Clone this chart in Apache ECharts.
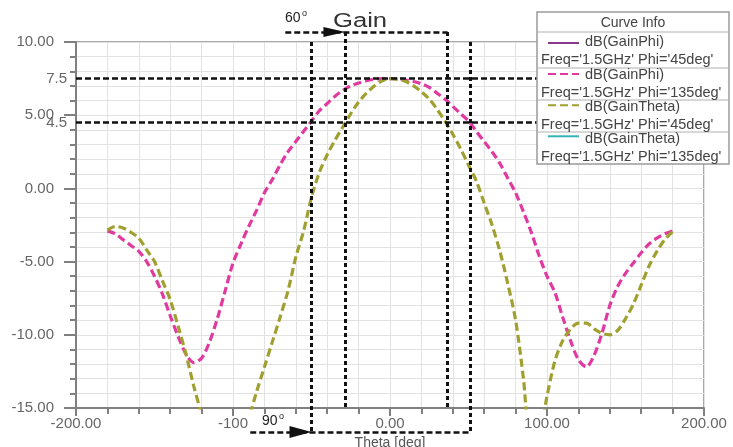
<!DOCTYPE html>
<html>
<head>
<meta charset="utf-8">
<script src="https://cdn.jsdelivr.net/npm/echarts@6/dist/echarts.min.js"></script>
<style>
    html, body { margin: 0; padding: 0; background: #fff; }
    #main { width: 733px; height: 447px; }
</style>
</head>
<body>
<div id="main"></div>
<script>
    // theta in degrees, 5 deg steps
    var thetaDeg = [-180, -175, -170, -165, -160, -155, -150, -145, -140, -135, -130, -125, -120, -115, -110, -105, -100,
        -95, -90, -85, -80, -75, -70, -65, -60, -55, -50, -45, -40, -35, -30, -25, -20, -15, -10, -5, 0, 5, 10, 15, 20,
        25, 30, 35, 40, 45, 50, 55, 60, 65, 70, 75, 80, 85, 90, 95, 100, 105, 110, 115, 120, 125, 130, 135, 140, 145,
        150, 155, 160, 165, 170, 175, 180];

    // dB(GainPhi) Phi='135deg'  (pink dashed)
    var gainPhi135 = [-2.9, -3.1, -3.5, -3.9, -4.3, -5.0, -6.0, -7.2, -8.7, -10.1, -11.3, -11.9, -11.6, -10.5, -8.9,
        -7.0, -5.1, -3.8, -2.6, -1.5, -0.3, 0.6, 1.6, 2.5, 3.2, 3.9, 4.6, 5.3, 5.8, 6.3, 6.7, 7.0, 7.2, 7.35, 7.45, 7.5,
        7.5, 7.5, 7.4, 7.3, 7.15, 6.9, 6.5, 6.1, 5.6, 5.1, 4.6, 3.9, 3.2, 2.5, 1.7, 0.7, -0.3, -1.6, -3.0, -4.6, -6.0,
        -7.1, -8.8, -10.4, -11.7, -12.2, -11.4, -9.9, -8.0, -6.7, -5.8, -5.1, -4.4, -3.8, -3.4, -3.1, -2.9];

    // dB(GainTheta) Phi='45deg'  (olive dashed), dips below -15 are off the chart
    var gainTheta45 = [-2.85, -2.6, -2.7, -3.0, -3.4, -4.2, -5.0, -6.3, -7.6, -9.4, -11.3, -13.5, -15.5, -18.0, -20.0,
        -21.0, -20.0, -18.0, -15.8, -13.9, -12.2, -10.5, -8.8, -7.0, -4.7, -2.9, -0.6, 1.1, 2.3, 3.3, 4.2, 5.1, 5.9, 6.5,
        7.0, 7.35, 7.5, 7.45, 7.3, 7.0, 6.6, 6.1, 5.4, 4.6, 3.7, 2.7, 1.6, 0.5, -1.0, -2.5, -4.3, -6.5, -9.0, -13.0,
        -18.0, -17.0, -14.2, -11.8, -10.4, -9.6, -9.2, -9.2, -9.6, -9.9, -10.0, -9.7, -8.9, -7.9, -6.6, -5.3, -4.3, -3.5,
        -2.95];

    // the two solid curves are not visible in the picture
    var gainPhi45 = [];
    var gainTheta135 = [];

    var curveNames = ['dB(GainPhi)', 'dB(GainPhi)', 'dB(GainTheta)', 'dB(GainTheta)'];
    var curveFreq = ["Freq='1.5GHz' Phi='45deg'", "Freq='1.5GHz' Phi='135deg'",
        "Freq='1.5GHz' Phi='45deg'", "Freq='1.5GHz' Phi='135deg'"];
    var seriesIds = ['phi45', 'phi135', 'theta45', 'theta135'];

    // beamwidth annotations
    var gainLevels = [7.5, 4.5];
    var beam90 = [-50, 51];       // outer pair, 90 deg arrow
    var beam60 = [-28.4, 36.7];   // inner pair, 60 deg arrow
    var arrowTopY = 10.68;
    var arrowBottomY = -16.64;

    var font = 'Liberation Sans';

    function pairs(vals) {
        var out = [];
        for (var i = 0; i < vals.length; i++) {
            out.push([thetaDeg[i], vals[i]]);
        }
        return out;
    }

    var myChart = echarts.init(document.getElementById('main'));

    var dashH = {color: '#111', width: 2.5, type: [6, 3]};
    var dashV = {color: '#111', width: 3, type: [4, 3]};

    var notes = [
        [{coord: [-200, gainLevels[0]], label: {show: true, formatter: '7.5'}, lineStyle: dashH}, {coord: [100, gainLevels[0]]}],
        [{coord: [-200, gainLevels[1]], label: {show: true, formatter: '4.5', padding: [11, 0, 0, 0]}, lineStyle: dashH}, {coord: [100, gainLevels[1]]}],
        [{coord: [beam90[0], 10], lineStyle: dashV}, {coord: [beam90[0], arrowBottomY]}],
        [{coord: [beam90[1], 10], lineStyle: dashV}, {coord: [beam90[1], arrowBottomY]}],
        [{coord: [beam60[0], arrowTopY], lineStyle: dashV}, {coord: [beam60[0], -15]}],
        [{coord: [beam60[1], arrowTopY], lineStyle: dashV}, {coord: [beam60[1], -15]}],
        // top arrow
        [{coord: [-66.7, arrowTopY], lineStyle: dashH}, {coord: [beam60[0] - 7, arrowTopY], symbol: 'triangle', symbolSize: [10, 22]}],
        [{coord: [beam60[0] - 7, arrowTopY], lineStyle: dashH}, {coord: [beam60[1], arrowTopY]}],
        // bottom arrow
        [{coord: [-89, arrowBottomY], lineStyle: dashH}, {coord: [beam90[0] - 7, arrowBottomY], symbol: 'triangle', symbolSize: [12, 22]}],
        [{coord: [beam90[0] - 7, arrowBottomY], lineStyle: dashH}, {coord: [beam90[1], arrowBottomY]}]
    ];

    var graphics = [
        {type: 'rect', z: 50, shape: {x: 537, y: 12, width: 192, height: 152},
            style: {fill: '#fff', stroke: '#9a9a9a', lineWidth: 1.5}},
        {type: 'text', z: 60, x: 633, y: 23,
            style: {text: 'Curve Info', fontSize: 14, fontFamily: font, fill: '#444',
                align: 'center', verticalAlign: 'middle', textAlign: 'center', textVerticalAlign: 'middle'}},
        // titles above the chart
        {type: 'text', z: 60, x: 333, y: 21, scaleX: 1.28,
            style: {text: 'Gain', fontSize: 20, fontFamily: font, fill: '#333',
                verticalAlign: 'middle', textVerticalAlign: 'middle'}},
        {type: 'text', z: 60, x: 285, y: 18,
            style: {text: '60', fontSize: 14, fontFamily: font, fill: '#222', verticalAlign: 'middle', textVerticalAlign: 'middle'}},
        {type: 'text', z: 60, x: 302, y: 14,
            style: {text: 'o', fontSize: 9, fontFamily: font, fill: '#222', verticalAlign: 'middle', textVerticalAlign: 'middle'}},
        {type: 'text', z: 60, x: 262, y: 421,
            style: {text: '90', fontSize: 14, fontFamily: font, fill: '#222', verticalAlign: 'middle', textVerticalAlign: 'middle'}},
        {type: 'text', z: 60, x: 279, y: 417,
            style: {text: 'o', fontSize: 9, fontFamily: font, fill: '#222', verticalAlign: 'middle', textVerticalAlign: 'middle'}}
    ];
    var sepY = [32, 68, 100, 132];
    var nameY = [42, 75, 107, 139];
    for (var i = 0; i < sepY.length; i++) {
        graphics.push({type: 'line', z: 55, shape: {x1: 537, y1: sepY[i], x2: 729, y2: sepY[i]},
            style: {stroke: '#b0b0b0', lineWidth: 1}});
    }
    for (var j = 0; j < curveNames.length; j++) {
        graphics.push({type: 'text', z: 60, x: 585, y: nameY[j],
            style: {text: curveNames[j], fontSize: 14.5, fontFamily: font, fill: '#444',
                verticalAlign: 'middle', textVerticalAlign: 'middle'}});
        graphics.push({type: 'text', z: 60, x: 541, y: nameY[j] + 18,
            style: {text: curveFreq[j], fontSize: 14.5, fontFamily: font, fill: '#444',
                verticalAlign: 'middle', textVerticalAlign: 'middle'}});
    }

    var axisGray = '#808080';
    var gridGray = '#e2e2e2';

    var option = {
        backgroundColor: '#fff',
        animation: false,
        grid: [
            {left: 76, right: 29, top: 42, bottom: 39, show: true, borderColor: '#8c8c8c', borderWidth: 1.5,
                outerBoundsMode: 'none'},
            // same scale, a bit taller, for the annotations that run past the axes
            {left: 76, right: 29, top: 42 - 14.64, bottom: 39 - 2 * 14.64, show: false, outerBoundsMode: 'none'}
        ],
        legend: {
            orient: 'vertical',
            left: 542,
            top: 31,
            z: 60,
            itemWidth: 31,
            itemHeight: 14,
            itemGap: 18.5,
            selectedMode: false,
            itemStyle: {opacity: 0},
            formatter: function () { return ''; },
            data: seriesIds
        },
        xAxis: [{
            type: 'value',
            gridIndex: 0,
            min: -200,
            max: 200,
            interval: 100,
            name: 'Theta [deg]',
            nameLocation: 'middle',
            nameGap: 27,
            nameTextStyle: {fontFamily: font, fontSize: 14, color: '#555'},
            axisLine: {onZero: false, lineStyle: {color: axisGray, width: 2}},
            axisTick: {length: 8, lineStyle: {color: axisGray, width: 2}},
            minorTick: {show: true, splitNumber: 5, length: 6, lineStyle: {color: axisGray, width: 2}},
            axisLabel: {
                margin: 8, fontFamily: font, fontSize: 15, color: '#666',
                formatter: function (v) { return v === -100 ? '-100' : v.toFixed(2); }
            },
            splitLine: {show: true, lineStyle: {color: gridGray}},
            minorSplitLine: {show: true, lineStyle: {color: gridGray}}
        }, {
            type: 'value', gridIndex: 1, min: -200, max: 200, show: false
        }],
        yAxis: [{
            type: 'value',
            gridIndex: 0,
            min: -15,
            max: 10,
            interval: 5,
            axisLine: {show: true, onZero: false, lineStyle: {color: axisGray, width: 2}},
            axisTick: {show: true, length: 12, lineStyle: {color: axisGray, width: 2}},
            minorTick: {show: true, splitNumber: 5, length: 6, lineStyle: {color: axisGray, width: 2}},
            axisLabel: {
                margin: 22, fontFamily: font, fontSize: 15, color: '#666',
                formatter: function (v) { return v.toFixed(2); }
            },
            splitLine: {show: true, lineStyle: {color: gridGray}},
            minorSplitLine: {show: true, lineStyle: {color: gridGray}}
        }, {
            type: 'value', gridIndex: 1, min: -17, max: 11, show: false
        }],
        graphic: graphics,
        series: [{
            name: 'phi45', type: 'line', symbol: 'none', color: '#8a3a8a',
            lineStyle: {width: 3, color: '#8a3a8a'},
            data: pairs(gainPhi45)
        }, {
            name: 'phi135', type: 'line', symbol: 'none', smooth: 0.3, color: '#e0399f',
            lineStyle: {width: 3.2, color: '#e0399f', type: [8, 4]},
            data: pairs(gainPhi135)
        }, {
            name: 'theta45', type: 'line', symbol: 'none', smooth: 0.3, color: '#a0a030',
            lineStyle: {width: 3.2, color: '#a0a030', type: [8, 4]},
            data: pairs(gainTheta45)
        }, {
            name: 'theta135', type: 'line', symbol: 'none', color: '#35b5b5',
            lineStyle: {width: 3, color: '#35b5b5'},
            data: pairs(gainTheta135)
        }, {
            name: 'notes', type: 'line', xAxisIndex: 1, yAxisIndex: 1, data: [], silent: true,
            markLine: {
                silent: true,
                animation: false,
                symbol: ['none', 'none'],
                label: {show: false, position: 'start', distance: 9, fontFamily: font, fontSize: 15, color: '#666'},
                lineStyle: dashH,
                data: notes
            }
        }]
    };

    myChart.setOption(option);
</script>
</body>
</html>
